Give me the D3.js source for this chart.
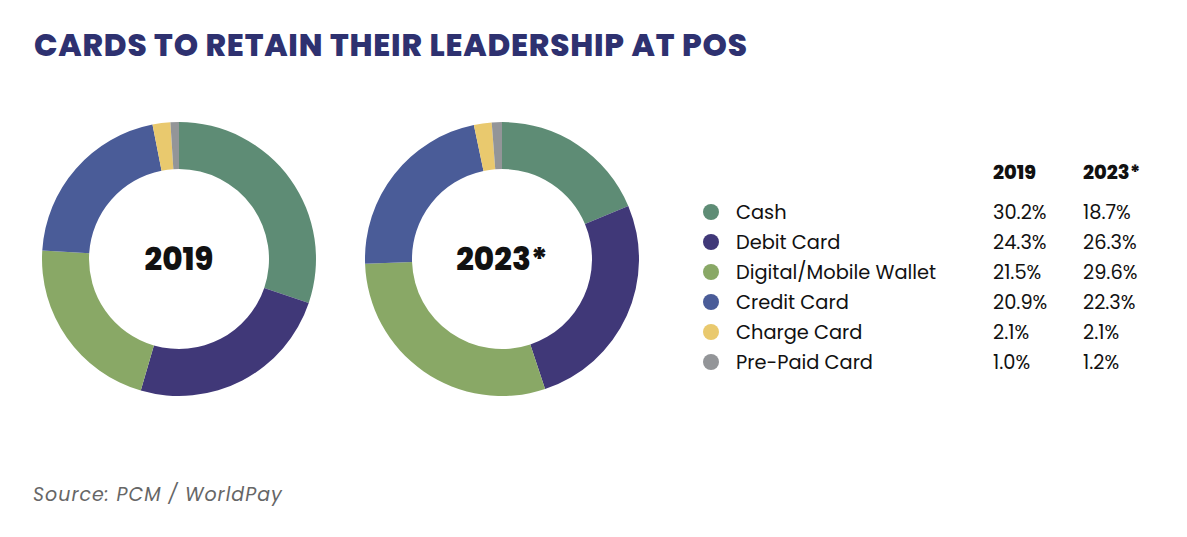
<!DOCTYPE html><html><head><meta charset="utf-8"><script src="https://cdn.jsdelivr.net/npm/d3@7"></script>
<style>body{margin:0;background:#fff}</style></head><body><svg id="c" width="1187" height="537"></svg>
<script>
const categories=["Cash","Debit Card","Digital/Mobile Wallet","Credit Card","Charge Card","Pre-Paid Card"];
const values2019=[30.2,24.3,21.5,20.9,2.1,1.0];
const values2023=[18.7,26.3,29.6,22.3,2.1,1.2];
const years=["2019","2023*"];
const colors=["#5e8c75","#403878","#89a866","#4a5c98","#e9c96e","#939598"];
const svg=d3.select("#c");
const F="Poppins, Inter, 'Open Sans', sans-serif";
svg.append("text").attr("x",34).attr("y",56).text("CARDS TO RETAIN THEIR LEADERSHIP AT POS")
 .attr("font-family",F).attr("font-weight",800).attr("font-size",31).attr("fill","#2e3170").attr("letter-spacing",0.8);
const pie=d3.pie().sort(null).value(d=>d);
const arc=d3.arc().innerRadius(90).outerRadius(137);
[[values2019,179],[values2023,502]].forEach(([vals,cx],i)=>{
 const g=svg.append("g").attr("transform",`translate(${cx},259)`);
 g.selectAll("path").data(pie(vals)).join("path").attr("d",arc).attr("fill",(d,j)=>colors[j]);
 g.append("text").attr("text-anchor","middle").attr("dy","0.35em").text(years[i])
  .attr("font-family",F).attr("font-weight",800).attr("font-size",31).attr("fill","#111");
});
const y=d3.scalePoint().domain(categories).range([212,362]);
const lg=svg.append("g").attr("font-family",F).attr("font-size",19.4).attr("fill","#111");
years.forEach((t,i)=>lg.append("text").attr("x",[993,1083][i]).attr("y",172).attr("dy","0.35em").text(t).attr("font-weight",800));
categories.forEach((c,j)=>{
 lg.append("circle").attr("cx",711).attr("cy",y(c)).attr("r",8).attr("fill",colors[j]);
 lg.append("text").attr("x",736).attr("y",y(c)).attr("dy","0.35em").text(c);
 lg.append("text").attr("x",993).attr("y",y(c)).attr("dy","0.35em").text(values2019[j].toFixed(1)+"%");
 lg.append("text").attr("x",1083).attr("y",y(c)).attr("dy","0.35em").text(values2023[j].toFixed(1)+"%");
});
svg.append("text").attr("x",33).attr("y",501).text("Source: PCM / WorldPay").attr("font-family",F)
 .attr("font-style","italic").attr("font-size",19).attr("fill","#666").attr("letter-spacing",1);
</script></body></html>
